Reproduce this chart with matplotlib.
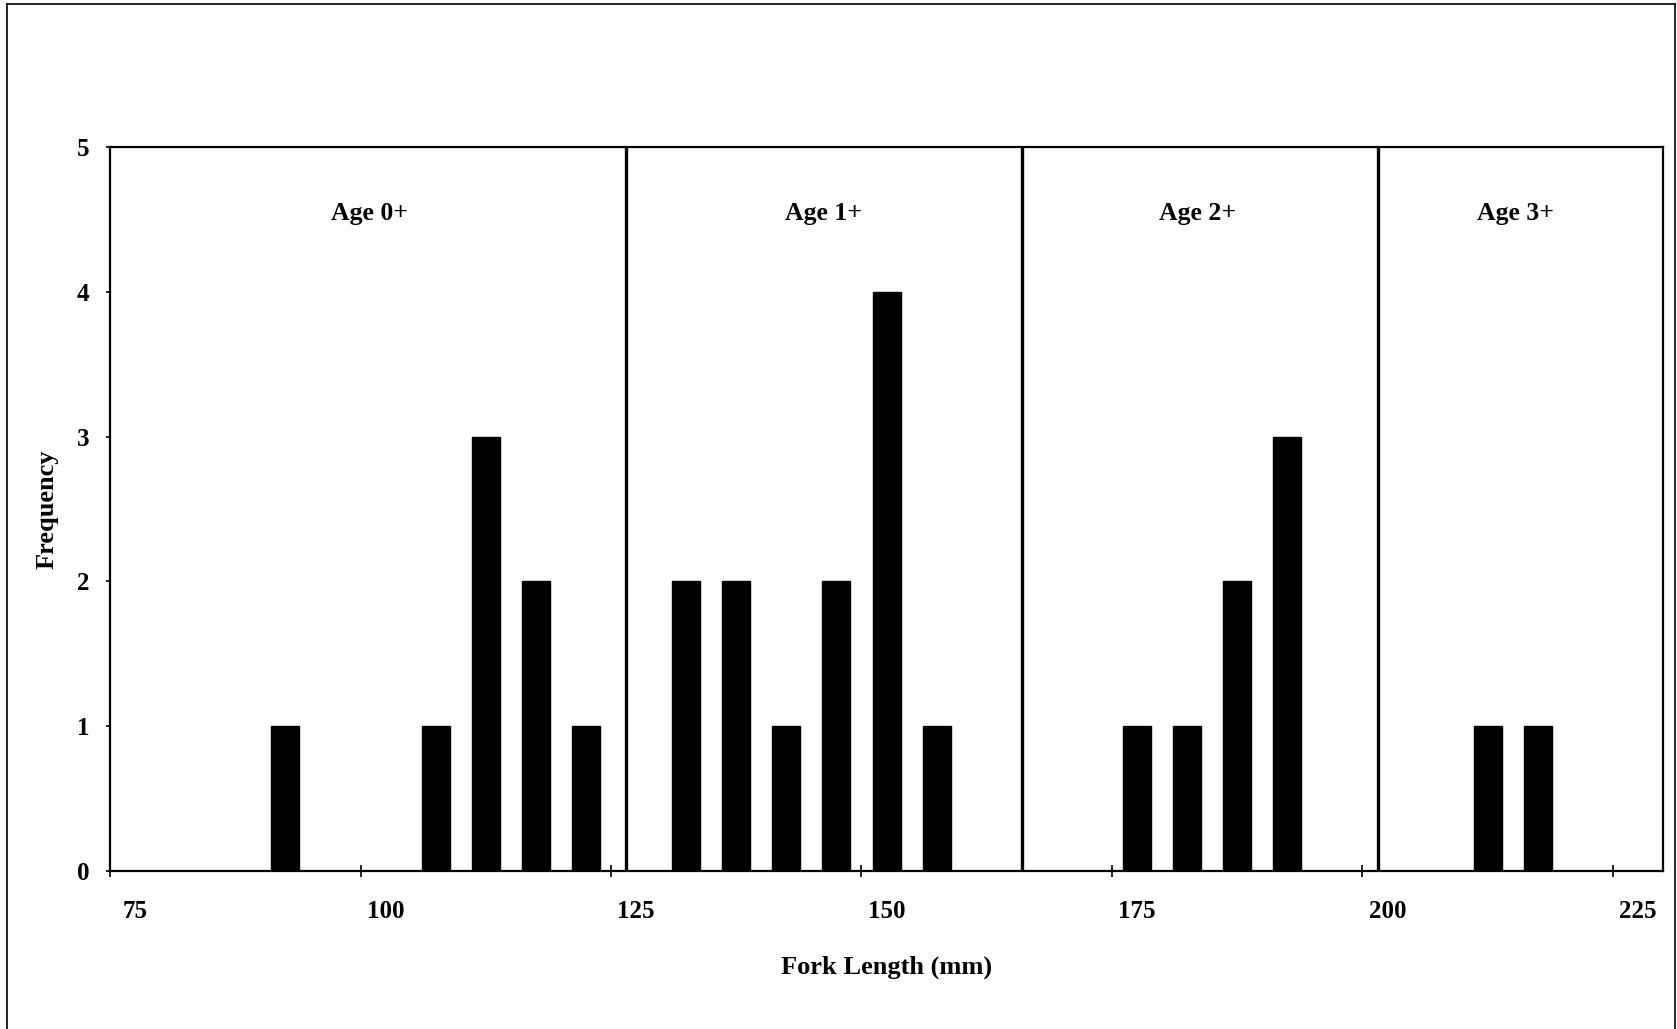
import matplotlib
matplotlib.use("Agg")
import matplotlib.pyplot as plt
from matplotlib.lines import Line2D
import numpy as np

# Fork length histogram by age class
fork_length = [90, 105, 110, 115, 120,
               130, 135, 140, 145, 150, 155,
               175, 180, 185, 190,
               210, 215]
frequency = [1, 1, 3, 2, 1,
             2, 2, 1, 2, 4, 1,
             1, 1, 2, 3,
             1, 1]
x_labels = [75, 100, 125, 150, 175, 200, 225]
y_ticks = [0, 1, 2, 3, 4, 5]
age_names = ["Age 0+", "Age 1+", "Age 2+", "Age 3+"]
age_label_x = [98.4, 143.7, 181.0, 212.8]
age_breaks = [124.0, 163.5, 199.0]

plt.rcParams['font.family'] = ['Liberation Serif', 'DejaVu Serif']
plt.rcParams['font.weight'] = 'bold'

fig = plt.figure(figsize=(16.77, 10.29), dpi=100)
ax = fig.add_axes([0.0656, 0.1535, 0.9261, 0.7035])

ax.bar(fork_length, frequency, width=2.8, color='black', edgecolor='black')

for xb in age_breaks:
    ax.axvline(xb, color='black', lw=2.4)

for name, xa in zip(age_names, age_label_x):
    ax.text(xa, 4.54, name, ha='center', va='center', fontsize=18.5, fontweight='bold')

ax.set_xlim(72.5, 227.5)
ax.set_ylim(0, 5)

# labels centred on categories, tick marks between them
ax.set_xticks(x_labels)
ax.set_xticklabels([str(v) for v in x_labels], fontsize=18, fontweight='bold')
ax.tick_params(axis='x', which='major', length=0, pad=21)
ax.set_xticks(np.arange(72.5, 227.6, 25), minor=True)
ax.tick_params(axis='x', which='minor', direction='inout', length=9, width=1.2)

ax.set_yticks(y_ticks)
ax.set_yticklabels([str(v) for v in y_ticks], fontsize=18, fontweight='bold')
ax.tick_params(axis='y', direction='out', length=3, width=1.2, pad=12)

for sp in ax.spines.values():
    sp.set_linewidth(1.6)
    sp.set_color('black')

ax.set_xlabel('Fork Length (mm)', fontsize=19, fontweight='bold', labelpad=23)
ax.set_ylabel('Frequency', fontsize=19, fontweight='bold', labelpad=13)

# scanned page border
fig.add_artist(Line2D([0.004, 0.9988], [0.996, 0.996], color='black', lw=1.2,
                      transform=fig.transFigure))
fig.add_artist(Line2D([0.004, 0.004], [0.0, 0.996], color='black', lw=1.2,
                      transform=fig.transFigure))
fig.add_artist(Line2D([0.9988, 0.9988], [0.0, 0.996], color='black', lw=1.2,
                      transform=fig.transFigure))

fig.savefig('out.png', dpi=100)
